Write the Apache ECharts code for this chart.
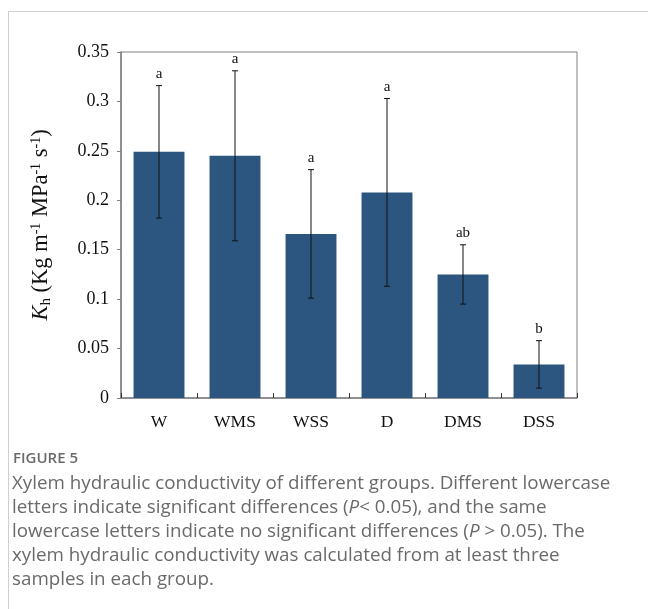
<!DOCTYPE html>
<html>
<head>
<meta charset="utf-8">
<script src="https://cdn.jsdelivr.net/npm/echarts@6/dist/echarts.min.js"></script>
<style>
  html, body { margin: 0; padding: 0; background: #fff; }
  #chart { width: 648px; height: 609px; }
</style>
</head>
<body>
<div id="chart"></div>
<script>
// Groups and xylem hydraulic conductivity (Kg m-1 MPa-1 s-1)
const groups = ['W', 'WMS', 'WSS', 'D', 'DMS', 'DSS'];
const meanKh = [0.249, 0.245, 0.166, 0.208, 0.125, 0.034];
const errKh = [0.067, 0.086, 0.065, 0.095, 0.030, 0.024];
const sigLetters = ['a', 'a', 'a', 'a', 'ab', 'b'];

const captionHead = 'FIGURE 5';
const captionLines = [
  'Xylem hydraulic conductivity of different groups. Different lowercase',
  'letters indicate significant differences ({i|P}< 0.05), and the same',
  'lowercase letters indicate no significant differences ({i|P} > 0.05). The',
  'xylem hydraulic conductivity was calculated from at least three',
  'samples in each group.'
];

const serif = '"Liberation Serif", "Times New Roman", serif';
const sans = '"Open Sans", "Noto Sans", sans-serif';
const axisGray = '#808080';
const captionGray = '#6a6a6a';
const captionSize = 18.8;

const chart = echarts.init(document.getElementById('chart'), null, { renderer: 'canvas' });

const captionGraphics = [
  { type: 'text', x: 13, y: 459,
    style: { text: captionHead, font: '600 15px ' + sans, fill: captionGray, textVerticalAlign: 'middle' } }
].concat(captionLines.map((line, i) => ({
  type: 'text', x: 12, y: 484 + i * 24,
  style: {
    text: line, font: captionSize + 'px ' + sans, fill: captionGray, textVerticalAlign: 'middle',
    rich: { i: { fontStyle: 'italic', fontSize: captionSize, fontFamily: sans, fill: captionGray } }
  }
})));

chart.setOption({
  animation: false,
  grid: { left: 121, right: 71, top: 52, bottom: 211, show: true, borderColor: axisGray, borderWidth: 1 },
  xAxis: {
    type: 'category',
    data: groups,
    axisLine: { lineStyle: { color: axisGray, width: 1.5 } },
    axisTick: { show: true, inside: true, length: 5, lineStyle: { color: '#333' } },
    axisLabel: { fontFamily: serif, fontSize: 17.5, color: '#111', margin: 15 }
  },
  yAxis: {
    type: 'value',
    min: 0, max: 0.35, interval: 0.05,
    name: '{k|K}{s|h}{n| (Kg m}{p|-1}{n| MPa}{p|-1}{n| s}{p|-1}{n|)}',
    nameLocation: 'middle',
    nameGap: 67,
    nameRotate: 90,
    nameTextStyle: {
      rich: {
        k: { fontFamily: serif, fontSize: 22.5, fontStyle: 'italic', color: '#111' },
        s: { fontFamily: serif, fontSize: 15, color: '#111', verticalAlign: 'bottom', padding: [10, 0, 0, 0] },
        n: { fontFamily: serif, fontSize: 22.5, color: '#111' },
        p: { fontFamily: serif, fontSize: 14, color: '#111', verticalAlign: 'top', padding: [0, 0, 8, 0] }
      }
    },
    splitLine: { show: false },
    axisLine: { show: true, lineStyle: { color: axisGray, width: 1.5 } },
    axisTick: { show: true, inside: false, length: 4, lineStyle: { color: axisGray } },
    axisLabel: {
      fontFamily: serif, fontSize: 18, color: '#111', margin: 12,
      formatter: v => String(parseFloat(v.toFixed(2)))
    }
  },
  series: [
    {
      type: 'bar',
      data: meanKh,
      barWidth: '67%',
      itemStyle: { color: '#2c567f' }
    },
    {
      type: 'custom',
      data: meanKh.map((m, i) => [i, m - errKh[i], m + errKh[i]]),
      z: 10,
      renderItem: function (params, api) {
        const i = api.value(0);
        const lo = api.coord([i, api.value(1)]);
        const hi = api.coord([i, api.value(2)]);
        const x = lo[0];
        const cap = 3;
        const ls = { stroke: '#111', lineWidth: 1 };
        return {
          type: 'group',
          children: [
            { type: 'line', shape: { x1: x, y1: lo[1], x2: x, y2: hi[1] }, style: ls },
            { type: 'line', shape: { x1: x - cap, y1: lo[1], x2: x + cap, y2: lo[1] }, style: ls },
            { type: 'line', shape: { x1: x - cap, y1: hi[1], x2: x + cap, y2: hi[1] }, style: ls },
            { type: 'text', style: {
                text: sigLetters[params.dataIndex], x: x, y: hi[1] - 4,
                textAlign: 'center', textVerticalAlign: 'bottom',
                font: '15px ' + serif, fill: '#111' } }
          ]
        };
      }
    }
  ],
  graphic: [
    { type: 'line', shape: { x1: 8, y1: 11.5, x2: 648, y2: 11.5 }, style: { stroke: '#cfcfcf', lineWidth: 1 } },
    { type: 'line', shape: { x1: 8.5, y1: 11, x2: 8.5, y2: 609 }, style: { stroke: '#cfcfcf', lineWidth: 1 } }
  ].concat(captionGraphics)
});
</script>
</body>
</html>
